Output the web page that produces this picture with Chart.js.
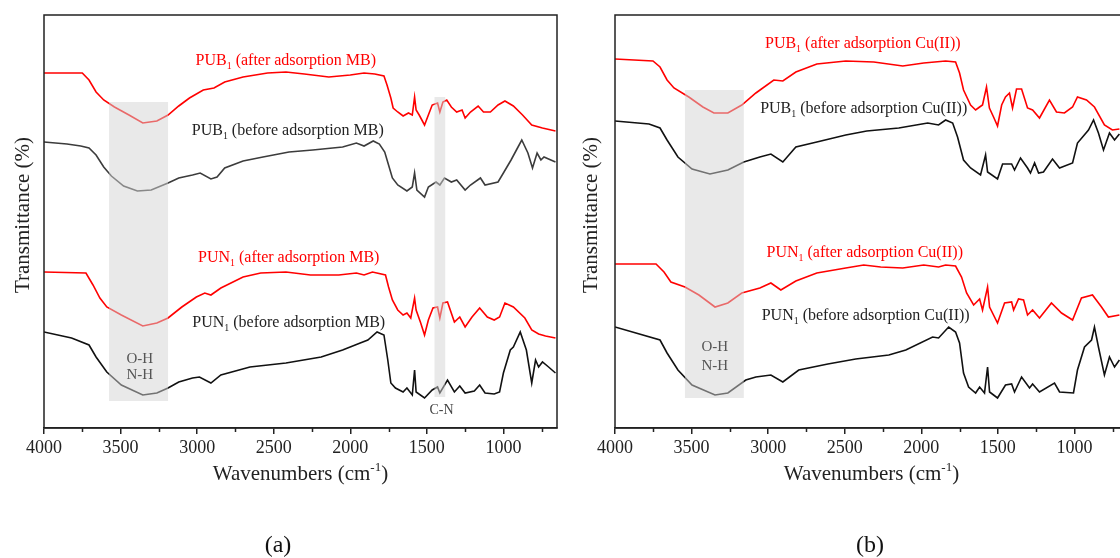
<!DOCTYPE html>
<html><head><meta charset="utf-8">
<script src="https://cdn.jsdelivr.net/npm/chart.js@4/dist/chart.umd.min.js"></script>
<style>
html,body{margin:0;padding:0;width:1120px;height:558px;overflow:hidden;background:#fff}
#pa{position:absolute;left:0;top:0}
#pb{position:absolute;left:571px;top:0}
</style></head><body>
<canvas id="pa" width="560" height="558"></canvas>
<canvas id="pb" width="560" height="558"></canvas>
<script>
// ---------- Panel (a): MB ----------
const wnA_PUBafter = [4000,3750,3706,3660,3610,3540,3445,3355,3263,3190,3120,3050,2960,2890,2820,2700,2540,2420,2300,2140,2000,1910,1840,1780,1760,1735,1720,1690,1655,1620,1595,1580,1570,1550,1515,1490,1465,1430,1415,1395,1370,1340,1305,1270,1250,1215,1165,1130,1085,1035,990,935,875,815,745,660];
const tA_PUBafter  = [88.75,88.75,87,84,82,80.25,78.25,76.25,76.75,78.25,80.5,82.5,84.5,85,86.5,87.75,88.75,89,88.5,87.75,88.25,88.75,88.5,88,85.75,82.5,80,79,78,78.75,78.25,82.75,79.5,78.25,75.75,78.25,80.75,81.25,79,81.5,82,80.25,79,79.5,77.5,79,80.5,79,79,80.75,81.75,80.5,78.25,75.75,75,74.25];

const wnA_PUBbefore = [4000,3850,3760,3706,3660,3610,3560,3480,3390,3300,3190,3120,3030,2980,2910,2870,2820,2700,2570,2400,2245,2050,1960,1910,1850,1810,1775,1750,1725,1690,1630,1595,1580,1565,1515,1490,1440,1415,1385,1340,1305,1250,1215,1150,1120,1035,1000,950,915,880,840,810,780,755,735,690,660];
const tA_PUBbefore  = [71.5,71,70.5,70,68.25,65.25,63,60.5,59.25,59.5,61.25,62.5,63.25,63.75,62.25,62.75,65,66.75,67.75,69,69.5,70.25,71.25,70.5,71.75,71,69,65.75,62.5,60.75,59.25,60.25,63.75,59.5,57.75,60.25,61.5,60.75,62.5,61.5,62,59.5,60.75,62.5,60.75,61.5,63.75,67,69.5,72,68.75,65,68.75,67,67.75,67,66.5];

const wnA_PUNafter = [4000,3726,3680,3635,3590,3495,3355,3263,3190,3100,3005,2950,2910,2845,2700,2585,2420,2260,2075,1960,1910,1855,1770,1750,1725,1690,1655,1630,1605,1580,1570,1540,1515,1490,1460,1430,1415,1395,1365,1320,1285,1250,1205,1155,1105,1060,1025,990,935,860,815,770,725,660];
const tA_PUNafter  = [39,38.75,35.75,32.5,30.25,28.25,25.5,26.25,27.5,30.25,32.75,33.75,33.25,35,37.75,38.75,39,38.25,38.25,38.75,38.25,39,38.25,35.25,32,29.5,28.25,28.75,27.5,32.5,29.5,26.25,23.25,27,30,30.25,27.5,31.25,31.5,26.5,27.75,25.25,27.75,30,27.75,27,27.75,31.25,30.25,27.5,24.5,23.5,23,22.5];

const wnA_PUNbefore = [4000,3820,3706,3660,3590,3495,3355,3263,3190,3120,3030,2985,2910,2845,2655,2420,2190,2050,1935,1885,1825,1780,1755,1735,1705,1655,1630,1595,1580,1570,1515,1465,1430,1415,1365,1320,1285,1250,1190,1155,1120,1060,1025,1000,955,935,890,850,815,790,770,745,705,660];
const tA_PUNbefore  = [24,22.5,20.75,17.75,14,10.75,8.25,8.75,10,11.5,12.5,12.75,11.25,13.25,15.25,16.25,17.75,19.5,21.25,22,24,23.25,17,11.25,10,9,10,8.25,14.5,9,7.5,9.5,10.25,8.75,12,9,10.5,8.75,9.25,10.75,8.75,8.5,9,13.75,19.5,20.25,24,19.5,11.25,17,15.25,16.5,15.25,13.75];

// ---------- Panel (b): Cu(II) ----------
const wnB_PUBafter = [4000,3752,3706,3660,3615,3518,3426,3354,3263,3172,3080,2963,2904,2819,2682,2493,2310,2121,1984,1841,1776,1750,1724,1678,1645,1619,1600,1574,1555,1528,1502,1475,1450,1424,1404,1378,1345,1306,1273,1228,1163,1117,1065,1012,980,921,869,804,752,706];
const tB_PUBafter  = [92.25,91.75,90.25,87,85,82.75,80.25,78.75,78.75,80.75,83.75,87,86.75,89,91,91.75,91.5,90.5,91.25,91.75,91.5,88.75,84.5,80.75,79.5,80.25,80.75,85.25,80,77.75,75.5,80.75,82.75,83.75,80,84.75,84.75,80,79.5,77.5,82,79,78.75,80.25,82.75,82,80.25,75.75,74.5,74.75];

const wnB_PUBbefore = [4000,3778,3706,3660,3589,3497,3380,3263,3159,3054,2982,2904,2819,2682,2493,2356,2147,1958,1887,1841,1795,1763,1724,1678,1613,1580,1567,1502,1469,1410,1391,1352,1306,1287,1260,1234,1202,1143,1097,1012,980,908,875,843,810,771,738,706];
const tB_PUBbefore  = [76.75,76,75,72,67.75,64.75,63.5,64.5,66.5,67.75,68.5,66.5,70.25,71.5,73.25,74.25,75,76.25,75.75,77,76.25,72.75,67,65,63.25,68.25,64,62.25,66,66,64.5,67.5,65,63.75,66.25,63.75,64,67.25,65,66.25,71.25,74.5,77,73.75,69.5,73.75,72,73.5];

const wnB_PUNafter = [4000,3732,3680,3635,3543,3452,3347,3263,3172,3054,2982,2917,2819,2682,2493,2376,2265,2121,1984,1887,1841,1776,1737,1704,1658,1619,1600,1567,1554,1502,1456,1410,1397,1365,1332,1306,1273,1228,1150,1084,1012,954,882,823,778,706];
const tB_PUNafter  = [41,41,39,36.5,35.25,33.25,30.25,31.25,33.75,35,36.25,34.5,36.75,38.75,40,40.75,40.25,40,40.75,40.25,40.75,40.5,37.75,33.75,30.75,32.25,29.5,35.25,30.25,26.25,31.25,31.5,29.5,32.25,32,28.25,29.5,27.5,31.25,28.75,27,32.5,33.25,30.25,27.75,28.25];

const wnB_PUNbefore = [4000,3706,3660,3589,3497,3347,3263,3146,3080,2982,2904,2800,2610,2428,2212,2101,1926,1887,1821,1776,1750,1724,1691,1645,1619,1587,1567,1554,1502,1450,1410,1391,1345,1293,1273,1228,1130,1097,1006,980,934,888,869,843,804,771,738,706];
const tB_PUNbefore  = [25.25,22,18.75,14.5,10.75,8.25,8.75,12,12.75,13.25,11.5,14.5,16,17.25,18.25,19.5,22.75,22.5,25.25,24,21.25,13.75,10.25,8.75,10.25,8.75,15.25,9,7.5,10.75,11,9,12.75,10,11,9,11.25,9,8.75,14.5,20.25,22,25.25,20.25,13.25,17.75,15.25,17];

// shaded band ranges [wavenumber from, to, T low, T high]
const bandA_OH = [3575, 3190, 6.75, 81.5];
const bandA_CN = [1450, 1380, 7.75, 82.75];
const bandB_OH = [3543, 3159, 7.5, 84.5];

// axis ticks
const xMajorTicks = [4000, 3500, 3000, 2500, 2000, 1500, 1000];
const xMinorTicks = [3750, 3250, 2750, 2250, 1750, 1250, 750];
const xMin = 650, xMax = 4000;

const FONT = '"Liberation Serif","Times New Roman",serif';
function fnt(sz){ return sz + 'px ' + FONT; }

function richText(ctx, x, y, parts, size, color) {
  ctx.save();
  ctx.fillStyle = color; ctx.textAlign = 'left'; ctx.textBaseline = 'alphabetic';
  const ws = parts.map(p => { ctx.font = fnt((p.sub||p.sup) ? size*0.62 : size); return ctx.measureText(p.t).width; });
  let cx = x - ws.reduce((a,b)=>a+b,0)/2;
  const base = y + size*0.32;
  parts.forEach((p,i) => {
    ctx.font = fnt((p.sub||p.sup) ? size*0.62 : size);
    const dy = p.sub ? size*0.24 : (p.sup ? -size*0.40 : 0);
    ctx.fillText(p.t, cx, base + dy);
    cx += ws[i];
  });
  ctx.restore();
}
function curveLabel(name, rest){ return [{t:name},{t:'1',sub:true},{t:rest}]; }

function makePanel(id, series, bands, labels, notes, yTitleX, yTitleY, letter, letterX) {
  const decor = {
    id: 'decor' + id,
    afterDatasetsDraw(chart) {
      const ctx = chart.ctx, xs = chart.scales.x, ys = chart.scales.y, ca = chart.chartArea;
      ctx.save();
      ctx.fillStyle = 'rgba(212,212,212,0.5)';
      bands.forEach(b => {
        const x1 = xs.getPixelForValue(b[0]), x2 = xs.getPixelForValue(b[1]);
        const y1 = ys.getPixelForValue(b[3]), y2 = ys.getPixelForValue(b[2]);
        ctx.fillRect(Math.min(x1,x2), y1, Math.abs(x2-x1), y2-y1);
      });
      ctx.strokeStyle = '#222'; ctx.lineWidth = 1.5;
      ctx.strokeRect(ca.left, ca.top, ca.right-ca.left, ca.bottom-ca.top);
      ctx.beginPath();
      xMinorTicks.forEach(v => {
        const px = Math.round(xs.getPixelForValue(v)) + 0.5;
        ctx.moveTo(px, ca.bottom); ctx.lineTo(px, ca.bottom + 4);
      });
      ctx.stroke();
      ctx.restore();
    },
    afterDraw(chart) {
      const ctx = chart.ctx, xs = chart.scales.x, ys = chart.scales.y, ca = chart.chartArea;
      labels.forEach(l => richText(ctx, xs.getPixelForValue(l.x), ys.getPixelForValue(l.y), l.parts, 16, l.color));
      notes.forEach(n => richText(ctx, xs.getPixelForValue(n.x), ys.getPixelForValue(n.y), [{t:n.t}], n.size, n.color));
      richText(ctx, (ca.left + ca.right)/2, 473, [{t:'Wavenumbers (cm'},{t:'-1',sup:true},{t:')'}], 21, '#222');
      ctx.save();
      ctx.translate(yTitleX, yTitleY); ctx.rotate(-Math.PI/2);
      richText(ctx, 0, 0, [{t:'Transmittance (%)'}], 21, '#222');
      ctx.restore();
      richText(ctx, letterX, 544, [{t:letter}], 24, '#111');
    }
  };
  return new Chart(document.getElementById(id), {
    type: 'line',
    data: { datasets: series.map(s => ({
      data: s.wn.map((w,i) => ({x:w, y:s.t[i]})),
      borderColor: s.color, borderWidth: 1.6, pointRadius: 0, tension: 0, fill: false
    })) },
    options: {
      responsive: false, animation: false, devicePixelRatio: 1,
      layout: { padding: { left: 44, top: 15, right: 3, bottom: 0 } },
      plugins: { legend: { display: false }, tooltip: { enabled: false } },
      scales: {
        x: {
          type: 'linear', reverse: true, min: xMin, max: xMax, position: 'bottom',
          afterBuildTicks: s => { s.ticks = xMajorTicks.map(v => ({value: v})); },
          afterFit: s => { s.height = 130; },
          ticks: { autoSkip: false, maxRotation: 0, padding: 3, color: '#222',
                   font: { family: FONT, size: 18 }, callback: v => String(v) },
          grid: { drawOnChartArea: false, drawTicks: true, tickLength: 6, color: '#222', lineWidth: 1.5 },
          border: { display: true, color: '#222', width: 1.5 }
        },
        y: { display: false, min: 0, max: 103.25 }
      }
    },
    plugins: [decor]
  });
}

makePanel('pa', [
  {wn: wnA_PUBafter,  t: tA_PUBafter,  color: '#ff0000'},
  {wn: wnA_PUBbefore, t: tA_PUBbefore, color: '#3c3c3c'},
  {wn: wnA_PUNafter,  t: tA_PUNafter,  color: '#ff0000'},
  {wn: wnA_PUNbefore, t: tA_PUNbefore, color: '#111111'}
], [bandA_OH, bandA_CN], [
  {x: 2421, y: 92,    color: '#ff0000', parts: curveLabel('PUB', ' (after adsorption MB)')},
  {x: 2408, y: 74.5,  color: '#222',    parts: curveLabel('PUB', ' (before adsorption MB)')},
  {x: 2402, y: 42.75, color: '#ff0000', parts: curveLabel('PUN', ' (after adsorption MB)')},
  {x: 2402, y: 26.5,  color: '#222',    parts: curveLabel('PUN', ' (before adsorption MB)')}
], [
  {x: 3374, y: 17.5, t: 'O-H', size: 15, color: '#555'},
  {x: 3374, y: 13.5, t: 'N-H', size: 15, color: '#555'},
  {x: 1404, y: 4.5,  t: 'C-N', size: 14, color: '#444'}
], 22, 215, '(a)', 278);

makePanel('pb', [
  {wn: wnB_PUBafter,  t: tB_PUBafter,  color: '#ff0000'},
  {wn: wnB_PUBbefore, t: tB_PUBbefore, color: '#111111'},
  {wn: wnB_PUNafter,  t: tB_PUNafter,  color: '#ff0000'},
  {wn: wnB_PUNbefore, t: tB_PUNbefore, color: '#111111'}
], [bandB_OH], [
  {x: 2382, y: 96.25, color: '#ff0000', parts: curveLabel('PUB', ' (after adsorption Cu(II))')},
  {x: 2376, y: 80,    color: '#222',    parts: curveLabel('PUB', ' (before adsorption Cu(II))')},
  {x: 2369, y: 44,    color: '#ff0000', parts: curveLabel('PUN', ' (after adsorption Cu(II))')},
  {x: 2363, y: 28.25, color: '#222',    parts: curveLabel('PUN', ' (before adsorption Cu(II))')}
], [
  {x: 3348, y: 20.5,  t: 'O-H', size: 15, color: '#555'},
  {x: 3348, y: 15.75, t: 'N-H', size: 15, color: '#555'}
], 19, 215, '(b)', 299);
</script></body></html>
